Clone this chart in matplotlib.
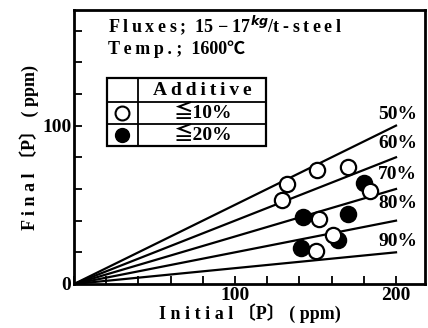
import matplotlib.pyplot as plt
from matplotlib.patches import Rectangle
from matplotlib.lines import Line2D

# removal ratio lines: final = initial * (1 - ratio)
ratios = [50, 60, 70, 80, 90]
line_end = 200
label_y = [107, 89, 69, 51, 27]

# <=10% additive (open circles)
open_x = [132, 151, 170, 129, 184, 152, 161, 150]
open_y = [63, 72, 74, 53, 59, 41, 31, 21]
# <=20% additive (filled circles)
fill_x = [180, 142, 170, 164, 141]
fill_y = [64, 42, 44, 28, 23]

fonts = ['Liberation Serif', 'Noto Sans CJK JP', 'DejaVu Sans']
plt.rcParams['font.family'] = fonts
plt.rcParams['font.weight'] = 'bold'

def spaced(s):
    # wide letter spacing like the original print
    return '\u2009'.join(s)

fig = plt.figure(figsize=(4.28, 3.28), dpi=100)
ax = fig.add_axes([74/428, 44/328, 351/428, 274/328])

for r in ratios:
    ax.plot([0, line_end], [0, line_end * (1 - r/100)], color='black', lw=1.6, zorder=2)
for r, ly in zip(ratios, label_y):
    ax.text(201, ly, f'{r}%', ha='center', va='center', fontsize=14, fontweight='bold')

ax.plot(open_x, open_y, 'o', ms=11, mfc='white', mec='black', mew=1.6, zorder=4)
ax.plot(fill_x, fill_y, 'o', ms=11, mfc='black', mec='black', mew=1.6, zorder=3)

ax.set_xlim(0, 218)
ax.set_ylim(0, 173)
ax.set_xticks(range(0, 220, 20))
ax.set_xticklabels(['' if v not in (100, 200) else str(v) for v in range(0, 220, 20)])
ax.set_yticks(range(0, 180, 20))
ax.set_yticklabels(['' if v not in (0, 100) else str(v) for v in range(0, 180, 20)])
ax.tick_params(direction='in', length=6, width=1.3, labelsize=14, pad=2)
for s in ax.spines.values():
    s.set_linewidth(2)

ax.set_xlabel('I n i t i a l 〔P〕 ( ppm)', fontsize=13, fontweight='bold', labelpad=0)
ax.set_ylabel('F i n a l 〔P〕 ( ppm)', fontsize=13, fontweight='bold', labelpad=2)

ax.text(0.097, 0.945, spaced('Fluxes;') + '  15 − 17$^{kg}$/' + spaced('t-steel'),
        transform=ax.transAxes, fontsize=13, fontweight='bold', va='center', ha='left')
ax.text(0.097, 0.858, spaced('Temp.') + ' ;  1600℃', transform=ax.transAxes,
        fontsize=13, fontweight='bold', va='center', ha='left')

# legend table
x0, x1, x2 = 0.094, 0.182, 0.547
y0, y1, y2, y3 = 0.504, 0.584, 0.664, 0.752
ax.add_patch(Rectangle((x0, y0), x2 - x0, y3 - y0, transform=ax.transAxes,
                       fill=True, fc='white', ec='black', lw=1.6, zorder=5))
for yy in (y1, y2):
    ax.add_line(Line2D([x0, x2], [yy, yy], transform=ax.transAxes, color='black', lw=1.3, zorder=6))
ax.add_line(Line2D([x1, x1], [y0, y3], transform=ax.transAxes, color='black', lw=1.3, zorder=6))
ax.text((x1 + x2)/2, (y2 + y3)/2, spaced('Additive'), transform=ax.transAxes, ha='center',
        va='center', fontsize=14, fontweight='bold', zorder=7)
ax.plot([(x0 + x1)/2], [(y1 + y2)/2], 'o', ms=10, mfc='white', mec='black', mew=1.5,
        transform=ax.transAxes, zorder=7)
ax.plot([(x0 + x1)/2], [(y0 + y1)/2], 'o', ms=10, mfc='black', mec='black',
        transform=ax.transAxes, zorder=7)
ax.text((x1 + x2)/2, (y1 + y2)/2, '≦10%', transform=ax.transAxes, ha='center', va='center',
        fontsize=14, fontweight='bold', zorder=7)
ax.text((x1 + x2)/2, (y0 + y1)/2, '≦20%', transform=ax.transAxes, ha='center', va='center',
        fontsize=14, fontweight='bold', zorder=7)

fig.savefig('out.png', dpi=100)
